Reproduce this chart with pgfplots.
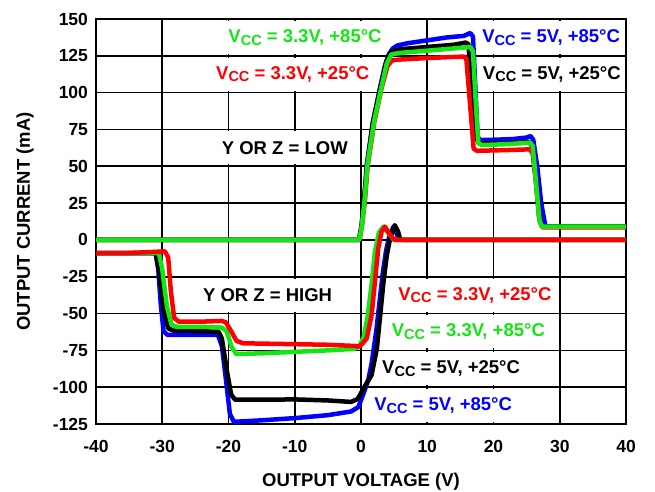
\documentclass[border=0pt]{standalone}
\usepackage{fontspec}
\setmainfont{Liberation Sans}
\usepackage{pgfplots}
\pgfplotsset{compat=1.18}
\definecolor{cgreen}{RGB}{20,230,20}
\definecolor{cred}{RGB}{255,0,0}
\definecolor{cblue}{RGB}{0,0,255}
\newcommand\vcc{V\raisebox{-2.6pt}{\fontsize{14.5}{14.5}\selectfont CC}}
\tikzset{lbl/.style={font=\fontsize{18.5}{18.5}\selectfont\bfseries, fill=white, inner xsep=1pt, inner ysep=0pt, minimum height=33pt, anchor=center}}
\begin{document}
\begin{tikzpicture}
\useasboundingbox (0,0) rectangle (655pt,491pt);
\begin{axis}[
  at={(96pt,67pt)}, anchor=south west,
  width=530pt, height=405pt, scale only axis,
  xmin=-40, xmax=40, ymin=-125, ymax=150,
  xtick={-40,-30,...,40}, ytick={-125,-100,...,150},
  grid=major, major grid style={black, line width=1.7pt},
  axis line style={black, line width=2.6pt},
  major tick length=0pt,
  /pgf/number format/assume math mode=true,
  ticklabel style={font=\fontsize{17.5}{17.5}\selectfont\bfseries},
  xticklabel style={anchor=center, yshift=-22.7pt},
  yticklabel style={anchor=east, xshift=-4.5pt},
  xlabel={OUTPUT VOLTAGE (V)},
  ylabel={OUTPUT CURRENT (mA)},
  label style={font=\fontsize{18.5}{18.5}\selectfont\bfseries},
  xlabel style={at={(axis description cs:0.5,-0.1425)}, anchor=center},
  ylabel style={at={(axis description cs:-0.134,0.5)}, anchor=center},
  clip=true,
  every axis plot/.append style={line width=4.5pt, line join=round, line cap=round},
]
% labels (drawn under curves, over grid)
\node[lbl, text=cgreen] at (axis cs:-8.45,137.5) {\vcc{} = 3.3V, +85°C};
\node[lbl, text=cred] at (axis cs:-10.3,112.5) {\vcc{} = 3.3V, +25°C};
\node[lbl, text=cblue] at (axis cs:28.7,137.5) {\vcc{} = 5V, +85°C};
\node[lbl, text=black] at (axis cs:28.8,112.5) {\vcc{} = 5V, +25°C};
\node[lbl, text=black] at (axis cs:-11.5,62.5) {Y OR Z = LOW};
\node[lbl, text=black] at (axis cs:-14.1,-37.5) {Y OR Z = HIGH};
\node[lbl, text=cred] at (axis cs:17.2,-37.5) {\vcc{} = 3.3V, +25°C};
\node[lbl, text=cgreen] at (axis cs:16.2,-62.5) {\vcc{} = 3.3V, +85°C};
\node[lbl, text=black] at (axis cs:13.6,-87.5) {\vcc{} = 5V, +25°C};
\node[lbl, text=cblue] at (axis cs:12.4,-112.5) {\vcc{} = 5V, +85°C};

% ---- Y or Z = HIGH (lower group) ----
\addplot[cblue] coordinates {(-40,-9) (-31,-9) (-30.6,-20) (-30.2,-45) (-29.8,-62) (-29.2,-64.5) (-25,-64.5) (-21.6,-64.5) (-21,-72) (-20.3,-98) (-19.8,-118) (-19.2,-123.5) (-15,-122.5) (-10,-121) (-5,-119) (-1.5,-116.5) (-0.4,-113.5) (0.4,-104) (1.1,-95) (1.6,-84) (2.3,-62) (2.8,-42) (3.3,-22) (3.8,-7) (4.3,3) (4.9,9) (5.4,4) (5.8,0) (40,0)};
\addplot[black] coordinates {(-40,-9) (-31,-9) (-30.5,-20) (-29.8,-48) (-29.1,-60) (-28.4,-61.5) (-25,-62) (-21.5,-62.3) (-21,-67) (-20.2,-90) (-19.6,-105) (-19,-108.5) (-15,-108.5) (-10,-108.3) (-5,-109) (-1.5,-110) (-0.5,-108) (0.5,-100) (1.6,-91.7) (2.4,-73.6) (2.9,-51) (3.4,-28.4) (3.9,-10.2) (4.4,1) (5.1,10) (5.6,5.6) (5.9,0.5) (6.3,0) (40,0)};
\addplot[cgreen] coordinates {(-40,-9) (-30.5,-9) (-30,-20) (-29.3,-45) (-28.6,-57.5) (-27.8,-59) (-24,-59) (-21,-59.5) (-20.3,-62) (-19.5,-73) (-18.8,-77.5) (-15,-77) (-10,-76) (-5,-75) (-1,-74) (-0.3,-72.5) (0.4,-66) (1,-52) (1.6,-30) (2.1,-8) (2.7,5) (3.4,9) (4.2,4) (5,0) (40,0)};
\addplot[cred] coordinates {(-40,-9) (-36,-9) (-33,-8.5) (-29.6,-7.8) (-29.1,-12) (-28.7,-35) (-28.2,-53) (-27.5,-55.5) (-24,-55.5) (-21,-55) (-20.4,-56) (-19.6,-62) (-18.8,-68.5) (-17.8,-70.2) (-10,-70.8) (-5,-71.2) (-1,-72) (-0.3,-72.5) (0.3,-70) (0.87,-66.8) (1.6,-51) (2.1,-28.4) (2.6,-5.7) (3.1,5.6) (3.6,9) (4.4,3.3) (5.1,0) (40,0)};

% ---- Y or Z = LOW (upper group) ----
\addplot[cblue] coordinates {(-40,0) (-0.3,0) (0.1,10) (0.5,28) (0.9,52) (1.8,80) (2.8,102) (3.6,118) (4.2,126) (4.8,130) (5.5,132) (7,133.5) (10,135.5) (13,137.5) (15.5,138.5) (16.5,140.5) (16.9,138) (17.3,100) (17.6,70) (18,67.8) (20,68) (23,68.5) (25,69.5) (25.6,70.5) (26,68) (26.6,50) (27.2,25) (27.8,10) (28.3,9) (40,9)};
\addplot[black] coordinates {(-40,0) (-0.3,0) (0.1,10) (0.4,25) (0.9,50) (1.8,80) (2.8,100) (3.8,121) (4.5,127.5) (6,129.5) (10,131) (14,132.5) (15.8,134) (16.2,133) (16.8,100) (17.3,70) (17.8,65.5) (22,65.5) (25.3,66.5) (25.8,64) (26.4,40) (26.9,15) (27.3,9) (40,9)};
\addplot[cred] coordinates {(-40,0) (-0.2,0) (0.2,12) (0.6,27) (1,50) (2,80) (3.1,103) (4,118) (4.7,122) (6,122.5) (10,123.5) (15.5,124.5) (15.9,123) (16.5,90) (17,62) (17.5,60.5) (22,61) (25.5,61.5) (26,58) (26.5,35) (27,12) (27.4,8.5) (40,8.5)};
\addplot[cgreen] coordinates {(-40,0) (-0.3,0) (0.1,8) (0.5,25) (1,52) (2,81) (3.1,104) (3.9,120) (4.6,126) (6,127) (10,128.5) (14,130) (16.5,131) (16.9,128) (17.3,95) (17.7,66) (18.2,64.4) (22,65) (25.5,66) (25.9,64) (26.4,40) (26.9,14) (27.3,9) (40,9)};
\end{axis}
\end{tikzpicture}
\end{document}
